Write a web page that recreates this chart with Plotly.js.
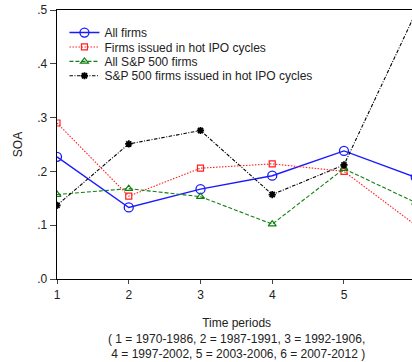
<!DOCTYPE html>
<html>
<head>
<meta charset="utf-8">
<script src="https://cdn.plot.ly/plotly-3.0.1.min.js"></script>
<style>html,body{margin:0;padding:0;background:#fff;}#chart{width:412px;height:362px;}</style>
</head>
<body>
<div id="chart"></div>
<script>
const periods = [1, 2, 3, 4, 5, 6];
const allFirms = [0.227, 0.133, 0.167, 0.192, 0.238, 0.189];
const hotIPOFirms = [0.290, 0.154, 0.206, 0.214, 0.200, 0.100];
const allSP500 = [0.157, 0.168, 0.153, 0.102, 0.205, 0.142];
const sp500HotIPO = [0.137, 0.251, 0.276, 0.157, 0.212, 0.495];
const seriesNames = ["All firms", "Firms issued in hot IPO cycles", "All S&P 500 firms", "S&P 500 firms issued in hot IPO cycles"];
const yTickVals = [0, 0.1, 0.2, 0.3, 0.4, 0.5];
const yTickText = [".0", ".1", ".2", ".3", ".4", ".5"];
const xTickVals = [1, 2, 3, 4, 5];
const xTitleLines = ["Time periods", "( 1 = 1970-1986, 2 = 1987-1991, 3 = 1992-1906,", " 4 = 1997-2002, 5 = 2003-2006, 6 = 2007-2012 )"];

const font = {family: "Liberation Sans, Arial, sans-serif", size: 12, color: "#222"};

const traces = [
  {x: periods, y: allFirms, name: seriesNames[0], mode: "lines+markers",
   line: {color: "#1a1aff", width: 1.4, dash: "solid"},
   marker: {symbol: "circle-open", size: 9, color: "#1a1aff", line: {width: 1.3}}},
  {x: periods, y: hotIPOFirms, name: seriesNames[1], mode: "lines+markers",
   line: {color: "#ff2020", width: 1.1, dash: "1.5px,1.5px"},
   marker: {symbol: "square-open", size: 6, color: "#ff2020", line: {width: 1.2}}},
  {x: periods, y: allSP500, name: seriesNames[2], mode: "lines+markers",
   line: {color: "#108010", width: 1.1, dash: "4px,2px"},
   marker: {symbol: "triangle-up-open", size: 7, color: "#108010", line: {width: 1.2}}},
  {x: periods, y: sp500HotIPO, name: seriesNames[3], mode: "lines+markers",
   line: {color: "#000000", width: 1.1, dash: "3.5px,1.5px,1px,1.5px"},
   marker: {symbol: "asterisk-open", size: 6, color: "#000000", line: {width: 1.8}}}
];

const layout = {
  width: 412, height: 362,
  margin: {l: 57, r: 0, t: 10, b: 83},
  paper_bgcolor: "#fff", plot_bgcolor: "#fff",
  font: font,
  showlegend: true,
  legend: {x: 0.021, y: 0.97, xanchor: "left", yanchor: "top", bgcolor: "rgba(0,0,0,0)",
           borderwidth: 0, font: font, itemwidth: 30, tracegroupgap: 0},
  xaxis: {range: [1, 5.948], tickvals: xTickVals, ticks: "outside", ticklen: 4,
          showgrid: false, zeroline: false, showline: true, linecolor: "#000", linewidth: 1.3,
          mirror: true, tickfont: font, fixedrange: true},
  yaxis: {range: [0, 0.5], tickvals: yTickVals, ticktext: yTickText, ticks: "outside", ticklen: 6,
          showgrid: false, zeroline: false, showline: true, linecolor: "#000", linewidth: 1.3,
          tickfont: font, title: {text: "SOA", font: font, standoff: 12}, fixedrange: true},
  annotations: [{
    xref: "x", yref: "paper", x: 3.5, y: -0.13, xanchor: "center", yanchor: "top",
    text: xTitleLines.join("<br>"), showarrow: false, font: font, align: "center"
  }]
};

Plotly.newPlot("chart", traces, layout, {staticPlot: true, displayModeBar: false}).then(function (gd) {
  const items = gd.querySelectorAll(".legend .traces");
  if (!items.length) return;
  const m0 = /translate\(\s*([-\d.]+)[ ,]+([-\d.]+)\s*\)/.exec(items[0].getAttribute("transform"));
  if (!m0) return;
  const y0 = parseFloat(m0[2]);
  items.forEach(function (el, i) {
    const m = /translate\(\s*([-\d.]+)[ ,]+([-\d.]+)\s*\)/.exec(el.getAttribute("transform"));
    if (m) el.setAttribute("transform", "translate(" + m[1] + "," + (y0 + i * 14.4) + ")");
  });
});
</script>
</body>
</html>
